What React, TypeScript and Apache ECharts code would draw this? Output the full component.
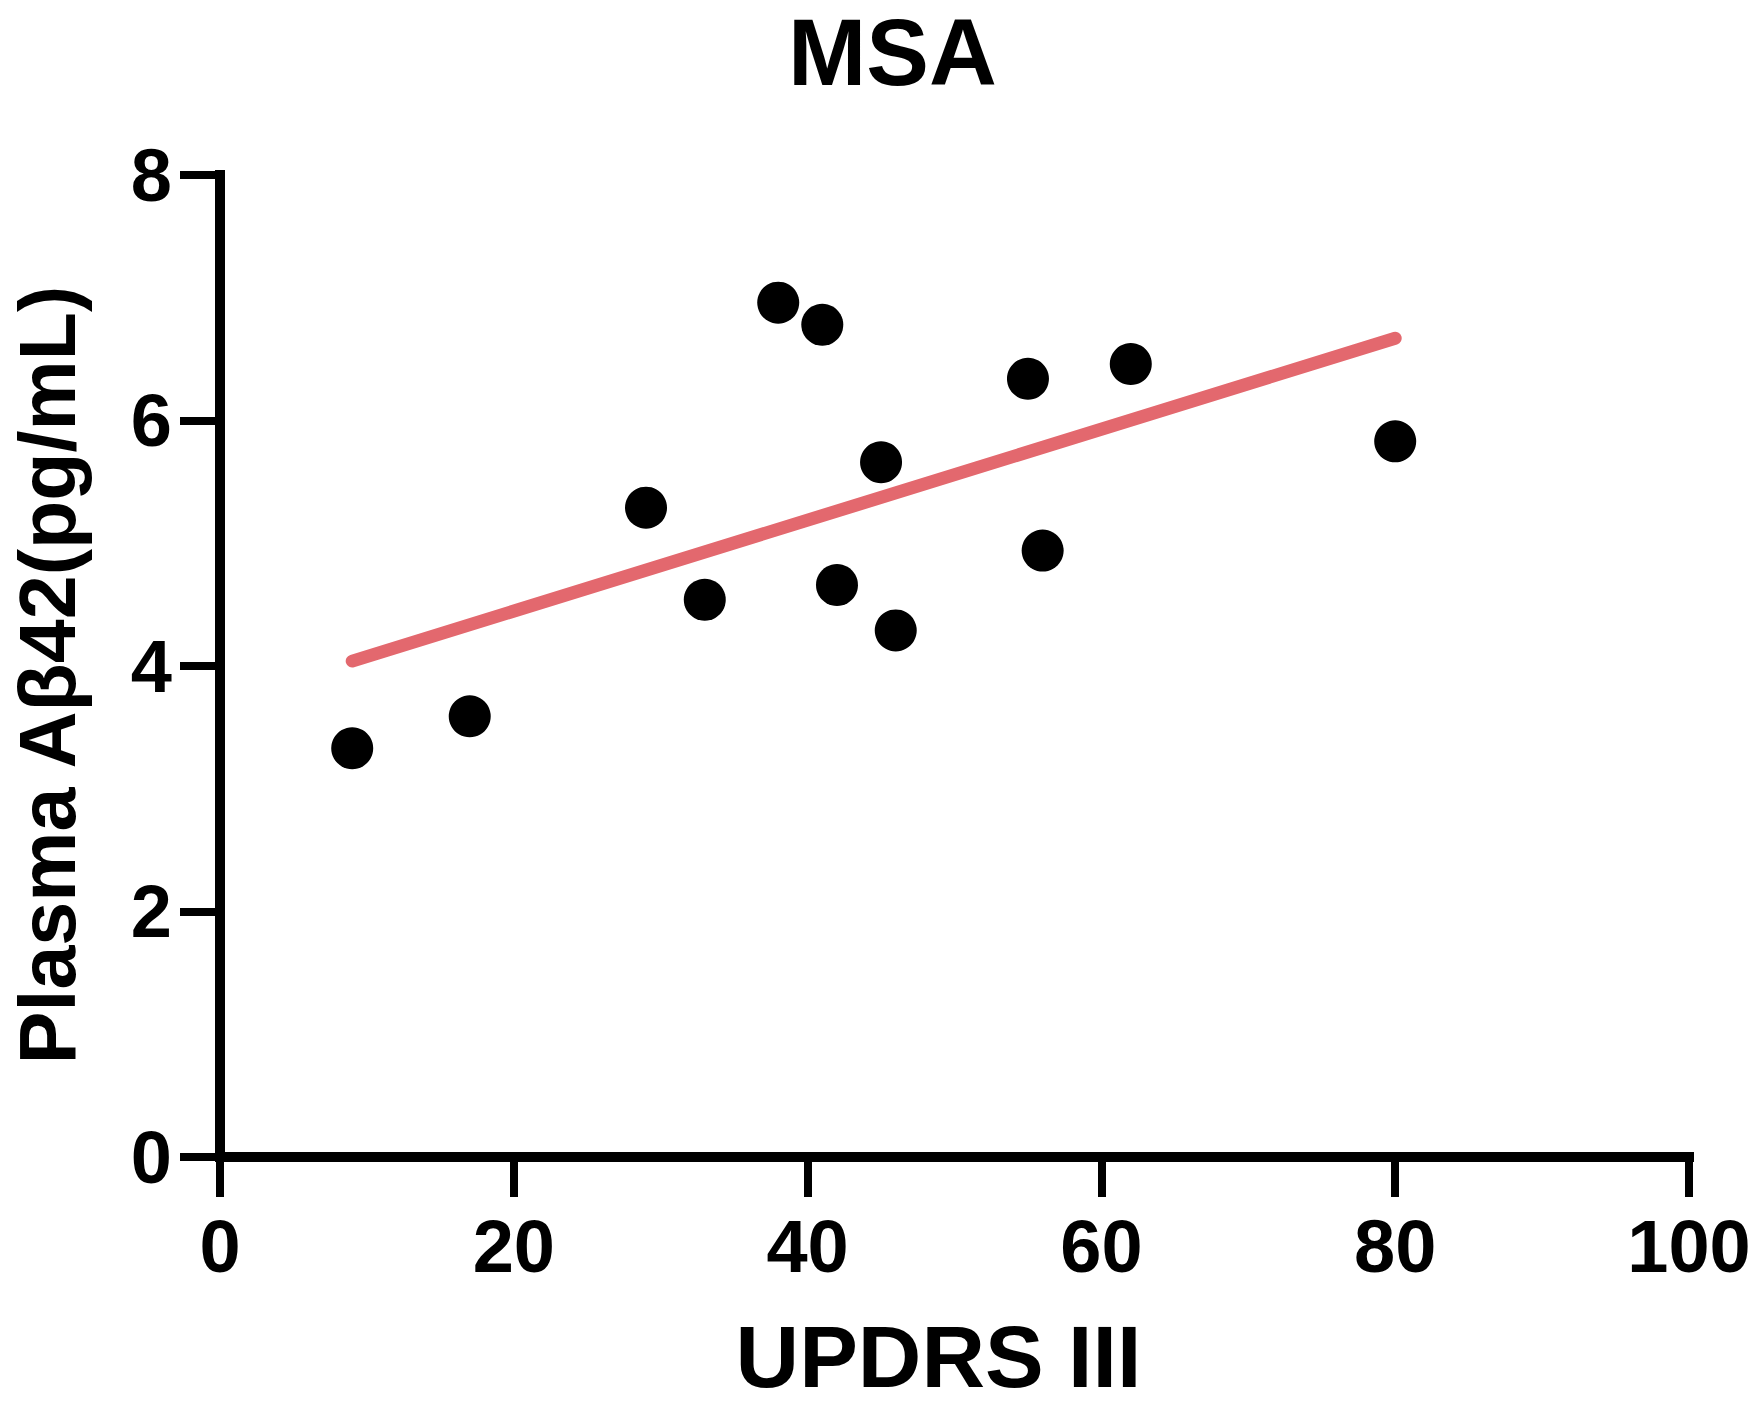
import React, { useEffect, useRef } from "react";
import * as echarts from "echarts";

const TITLE = "MSA";
const X_NAME = "UPDRS III";
const Y_NAME = "Plasma Aβ42(pg/mL)";

const xTicks = [0, 20, 40, 60, 80, 100];
const yTicks = [0, 2, 4, 6, 8];

// UPDRS III scores (x) and plasma Aβ42 (y) per patient
const updrs = [9, 17, 29, 33, 38, 41, 42, 45, 46, 55, 56, 62, 80];
const abeta = [3.33, 3.59, 5.29, 4.54, 6.96, 6.78, 4.66, 5.66, 4.29, 6.34, 4.94, 6.46, 5.83];

// regression line end points as drawn
const fitX = [9, 80];
const fitY = [4.04, 6.67];

export default function App() {
  const ref = useRef<HTMLDivElement>(null);

  useEffect(() => {
    const chart = echarts.init(ref.current!, null, { renderer: "svg" });
    const font = "'Liberation Sans', Arial, Helvetica, sans-serif";
    const axisCommon = {
      type: "value",
      splitLine: { show: false },
      axisLine: { show: true, onZero: false, lineStyle: { color: "#000", width: 10, cap: "square" } },
      axisTick: { show: true, length: 40, lineStyle: { color: "#000", width: 8 } },
      nameLocation: "middle",
    };
    chart.setOption({
      animation: false,
      backgroundColor: "#ffffff",
      title: {
        text: TITLE,
        left: 783,
        top: 0,
        textStyle: { fontFamily: font, fontWeight: "bold", fontSize: 94, color: "#000" },
      },
      grid: { left: 210, right: 72, top: 175, bottom: 258, containLabel: false },
      xAxis: {
        ...axisCommon,
        min: xTicks[0],
        max: xTicks[xTicks.length - 1],
        interval: xTicks[1] - xTicks[0],
        name: X_NAME,
        nameGap: 155,
        nameTextStyle: {
          fontFamily: font,
          fontWeight: "bold",
          color: "#000",
          fontSize: 88,
          padding: [0, 32, 0, 0],
        },
        axisLabel: { fontFamily: font, fontWeight: "bold", fontSize: 74, color: "#000", margin: 52 },
      },
      yAxis: {
        ...axisCommon,
        min: yTicks[0],
        max: yTicks[yTicks.length - 1],
        interval: yTicks[1] - yTicks[0],
        name: Y_NAME,
        nameGap: 133,
        nameTextStyle: {
          fontFamily: font,
          fontWeight: "bold",
          color: "#000",
          fontSize: 79,
          padding: [0, 18, 0, 0],
        },
        axisLabel: { fontFamily: font, fontWeight: "bold", fontSize: 74, color: "#000", margin: 48 },
      },
      series: [
        {
          type: "scatter",
          data: updrs.map((x, i) => [x, abeta[i]]),
          symbol: "circle",
          symbolSize: 42,
          itemStyle: { color: "#000", opacity: 1 },
          z: 2,
        },
        {
          type: "line",
          data: fitX.map((x, i) => [x, fitY[i]]),
          showSymbol: false,
          symbol: "none",
          lineStyle: { color: "#E3686E", width: 13, cap: "round" },
          z: 3,
        },
      ],
    });
    return () => chart.dispose();
  }, []);

  return (
    <div
      ref={ref}
      style={{ position: "absolute", left: 0, top: 0, width: 1761, height: 1415, background: "#fff" }}
    />
  );
}
